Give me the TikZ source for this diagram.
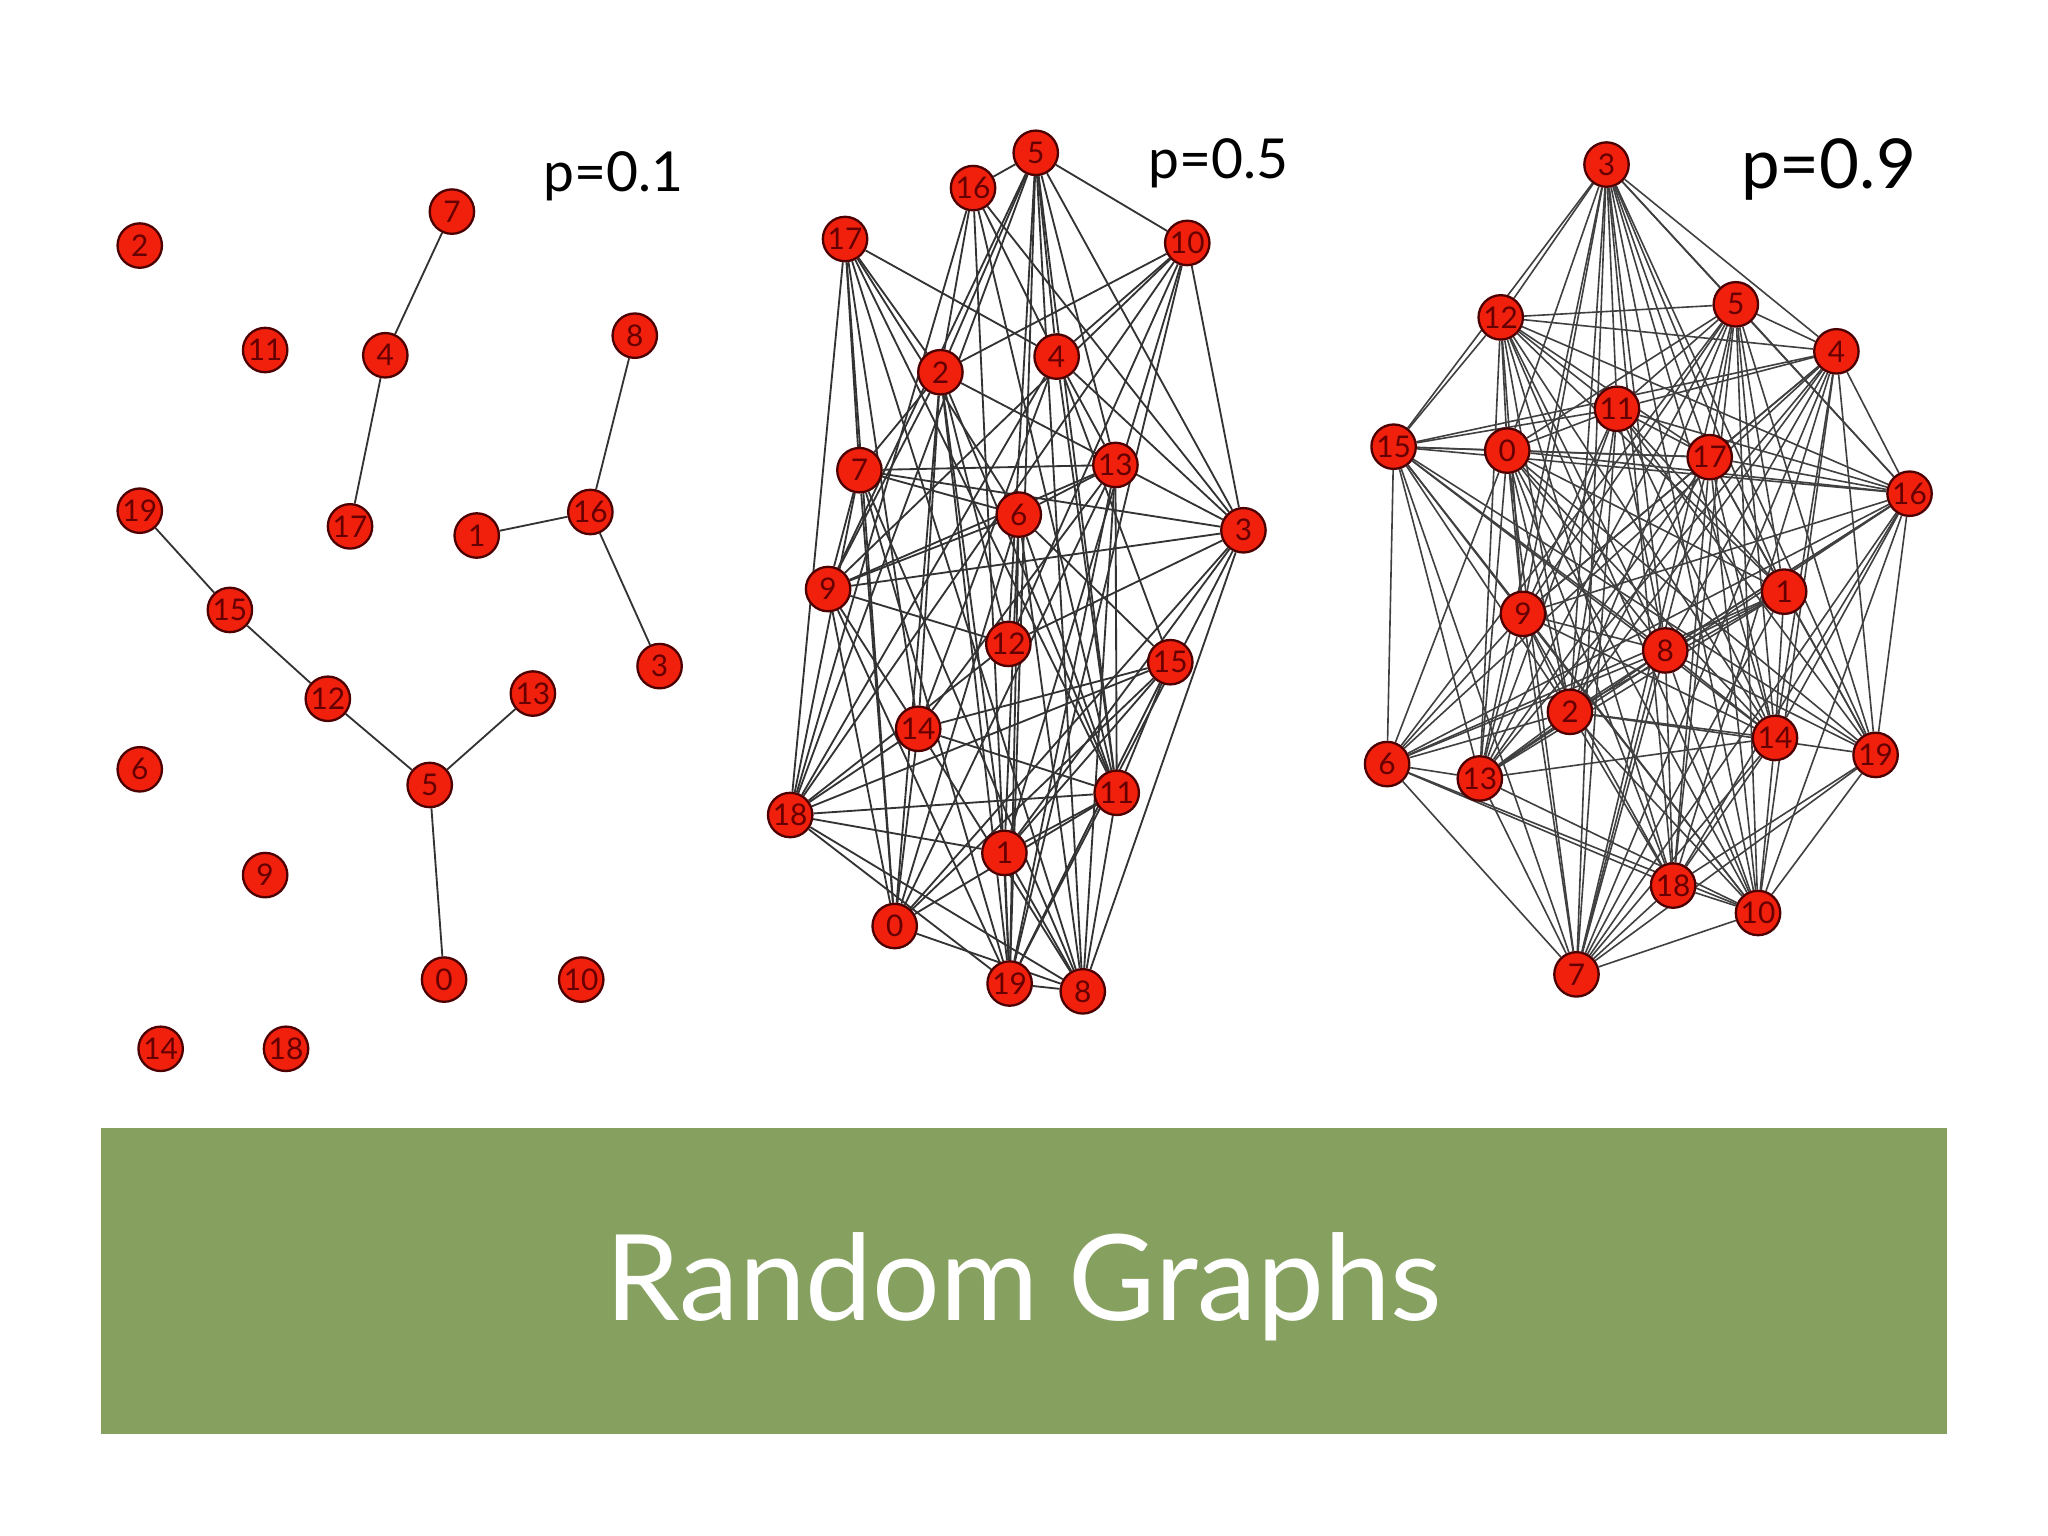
\documentclass[tikz,border=0pt]{standalone}
\usepackage{fontspec}
\setmainfont{Lato}
\usetikzlibrary{backgrounds}
\definecolor{nodered}{HTML}{F0200C}
\definecolor{banner}{HTML}{86A060}
\tikzset{
 vtx/.style={circle,fill=nodered,draw=black!70!red,line width=0.5pt,minimum size=0.34cm,inner sep=0pt,font=\fontsize{6.5}{7}\selectfont,text=black!60!red},
 edge/.style={draw=black!80,line width=0.4pt},
 plabel/.style={font=\fontsize{12}{13}\selectfont}
}
\begin{document}
\begin{tikzpicture}[x=0.01cm,y=-0.01cm]
\useasboundingbox (0,0) rectangle (1568,1176);
% p=0.1
\foreach \n/\x/\y in {2/107/188,11/203/268,7/346/162,4/295/272,17/268/403,8/486/257,16/452/392,1/365/410,3/505/510,19/107/391,15/176/467,12/251/535,13/408/531,5/329/601,6/107/589,9/203/670,0/340/750,10/445/750,14/123/803,18/219/803}
  \node[vtx] (a\n) at (\x,\y) {\n};
\begin{pgfonlayer}{background}
\foreach \u/\v in {7/4,4/17,8/16,16/1,16/3,19/15,15/12,12/5,13/5,5/0}
  \draw[edge] (a\u) -- (a\v);
\end{pgfonlayer}
% p=0.5
\foreach \n/\x/\y in {5/793/117,16/745/144,17/647/183,10/909/186,2/720/285,4/809/273,7/658/360,13/854/356,6/780/394,3/952/406,9/634/451,12/772/493,15/896/507,14/703/558,18/605/624,11/855/607,1/769/653,0/685/709,19/773/753,8/829/759}
  \node[vtx] (b\n) at (\x,\y) {\n};
% p=0.9
\foreach \n/\x/\y in {3/1230/126,12/1149/243,5/1329/233,4/1406/269,11/1238/313,15/1067/342,0/1154/345,17/1309/350,16/1462/378,9/1166/470,1/1366/453,8/1275/498,2/1202/545,14/1359/565,19/1436/578,6/1062/585,13/1133/596,18/1281/678,10/1346/699,7/1207/746}
  \node[vtx] (c\n) at (\x,\y) {\n};
\begin{pgfonlayer}{background}
\pgfmathsetseed{7}
\foreach \i in {0,...,18}{
  \pgfmathtruncatemacro\s{\i+1}
  \foreach \j in {\s,...,19}{
    \pgfmathsetmacro\r{rnd}
    \ifdim\r pt<0.5pt \draw[edge] (b\i) -- (b\j);\fi
    \pgfmathsetmacro\q{rnd}
    \ifdim\q pt<0.9pt \draw[edge,draw=black!75,line width=0.35pt] (c\i) -- (c\j);\fi
  }}
\end{pgfonlayer}
\node[plabel] (l1) at (470,135) {p=0.1};
\node[plabel] (l2) at (933,125) {p=0.5};
\node[plabel,font=\fontsize{15}{16}\selectfont] (l3) at (1400,130) {p=0.9};
\fill[banner] (77,864) rectangle (1491,1098);
\node[text=white,font=\fontsize{26}{30}\selectfont] (title) at (784,985) {Random Graphs};
\end{tikzpicture}
\end{document}
